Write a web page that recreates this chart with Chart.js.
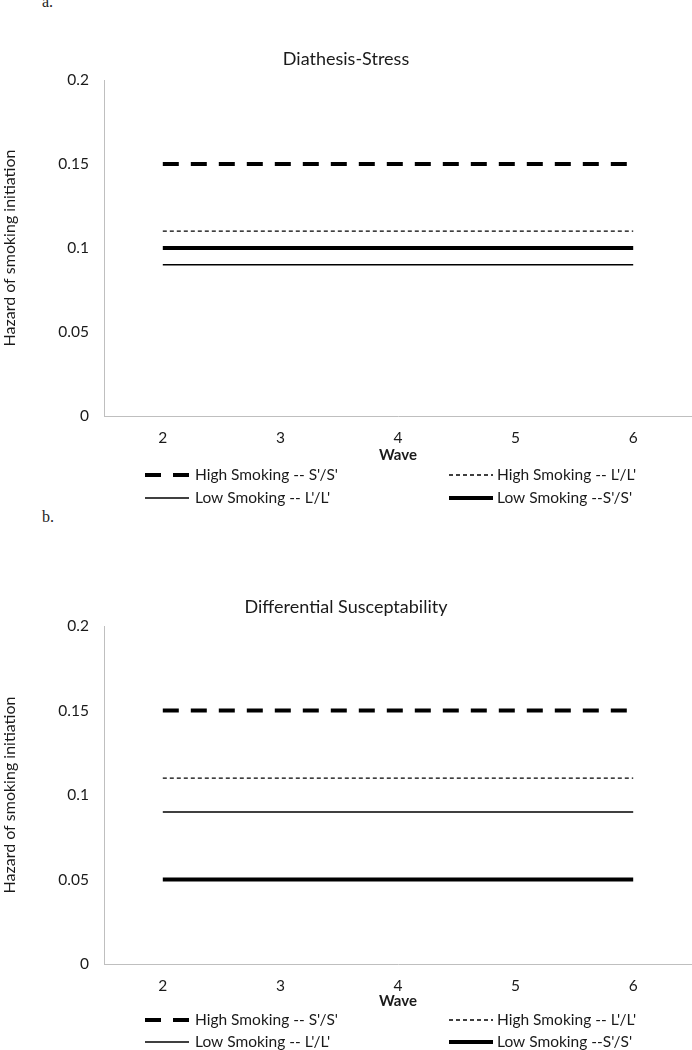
<!DOCTYPE html>
<html>
<head>
<meta charset="utf-8">
<script src="https://cdn.jsdelivr.net/npm/chart.js@4"></script>
<style>
  body { margin: 0; background: #fff; width: 692px; height: 1050px; position: relative; overflow: hidden; }
  .panel { position: absolute; left: 0; width: 692px; }
  .tag { position: absolute; left: 42px; font: 16px "Liberation Serif", "DejaVu Serif", serif; color: #222; }
</style>
</head>
<body>
<div class="tag" style="top:-7px">a.</div>
<div class="tag" style="top:508px">b.</div>
<div class="panel" style="top:0;height:520px"><canvas id="chartA" width="692" height="520"></canvas></div>
<div class="panel" style="top:545px;height:505px"><canvas id="chartB" width="692" height="505"></canvas></div>
<script>
// x categories (waves) and y tick values / labels
const waves = ["2", "3", "4", "5", "6"];
const yTicks = [0, 0.05, 0.1, 0.15, 0.2];
const yTickLabels = ["0", "0.05", "0.1", "0.15", "0.2"];

const seriesLabels = ["High Smoking -- S'/S'", "High Smoking -- L'/L'", "Low Smoking -- L'/L'", "Low Smoking --S'/S'"];

// panel a: Diathesis-Stress
const aHighSS = [0.15, 0.15, 0.15, 0.15, 0.15];
const aHighLL = [0.11, 0.11, 0.11, 0.11, 0.11];
const aLowLL  = [0.09, 0.09, 0.09, 0.09, 0.09];
const aLowSS  = [0.10, 0.10, 0.10, 0.10, 0.10];

// panel b: Differential Susceptability
const bHighSS = [0.15, 0.15, 0.15, 0.15, 0.15];
const bHighLL = [0.11, 0.11, 0.11, 0.11, 0.11];
const bLowLL  = [0.09, 0.09, 0.09, 0.09, 0.09];
const bLowSS  = [0.05, 0.05, 0.05, 0.05, 0.05];

const lineStyles = [
  { borderWidth: 4, borderDash: [16, 12] },   // thick dashed
  { borderWidth: 1.3, borderDash: [4, 3] },   // thin dashed
  { borderWidth: 1.5, borderDash: [] },       // thin solid
  { borderWidth: 4, borderDash: [] }          // thick solid
];

const FONT = "Lato, 'Open Sans', sans-serif";
Chart.defaults.font.family = FONT;
Chart.defaults.color = "#222";

// legend drawn below the Wave title, two columns like the original figure
const gridLegendPlugin = {
  id: "gridLegend",
  afterDraw(chart, args, opts) {
    const { ctx, chartArea } = chart;
    ctx.save();
    chart.data.datasets.forEach((ds, i) => {
      const col = opts.cols[i % 2];
      const y = chartArea.bottom + opts.rows[Math.floor(i / 2)];
      ctx.strokeStyle = "#000";
      ctx.lineWidth = ds.borderWidth;
      ctx.setLineDash(ds.borderDash || []);
      ctx.beginPath();
      ctx.moveTo(col.x0, y);
      ctx.lineTo(col.x1, y);
      ctx.stroke();
      ctx.setLineDash([]);
      ctx.fillStyle = "#1a1a1a";
      ctx.font = "15.5px " + FONT;
      ctx.textBaseline = "middle";
      ctx.fillText(ds.label, col.tx, y);
    });
    ctx.restore();
  }
};

function makeChart(id, title, values, titlePad, xHeight, bottomPad, rows) {
  const datasets = values.map((data, i) => ({
    label: seriesLabels[i],
    data,
    borderColor: "#000",
    borderWidth: lineStyles[i].borderWidth,
    borderDash: lineStyles[i].borderDash,
    borderCapStyle: "butt",
    pointRadius: 0,
    fill: false,
    tension: 0
  }));
  return new Chart(document.getElementById(id), {
    type: "line",
    data: { labels: waves, datasets },
    options: {
      responsive: false,
      animation: false,
      layout: { padding: { top: 0, left: 0, right: 0, bottom: bottomPad } },
      plugins: {
        legend: { display: false },
        tooltip: { enabled: false },
        title: {
          display: true,
          text: title,
          color: "#1a1a1a",
          font: { size: 18, weight: "normal", lineHeight: 1 },
          padding: titlePad
        },
        gridLegend: {
          rows,
          cols: [{ x0: 145, x1: 189, tx: 195 }, { x0: 449, x1: 493, tx: 497 }]
        }
      },
      scales: {
        x: {
          offset: true,
          grid: { display: false, drawTicks: false },
          border: { display: true, color: "#bfbfbf", width: 1 },
          ticks: { padding: 13, font: { size: 15.5 }, color: "#1a1a1a" },
          title: { display: true, text: "Wave", font: { size: 15, weight: "bold" }, color: "#1a1a1a", padding: { top: 0, bottom: 2 } },
          afterFit(s) { s.height = xHeight; }
        },
        y: {
          min: yTicks[0],
          max: yTicks[yTicks.length - 1],
          grid: { display: false, drawTicks: false },
          border: { display: true, color: "#bfbfbf", width: 1 },
          afterBuildTicks(s) { s.ticks = yTicks.map(v => ({ value: v })); },
          ticks: {
            padding: 15,
            font: { size: 15.5 },
            color: "#1a1a1a",
            callback: (v) => yTickLabels[yTicks.indexOf(v)] ?? String(v)
          },
          title: { display: true, text: "Hazard of smoking initiation", font: { size: 16 }, color: "#1a1a1a", padding: { top: 0, bottom: 0 } },
          afterFit(s) { s.width = 104; }
        }
      }
    },
    plugins: [gridLegendPlugin]
  });
}

makeChart("chartA", "Diathesis-Stress", [aHighSS, aHighLL, aLowLL, aLowSS],
  { top: 50, bottom: 12 }, 50, 54, [59, 82]);
makeChart("chartB", "Differential Susceptability", [bHighSS, bHighLL, bLowLL, bLowSS],
  { top: 53, bottom: 10 }, 48, 38, [56, 78]);
</script>
</body>
</html>
